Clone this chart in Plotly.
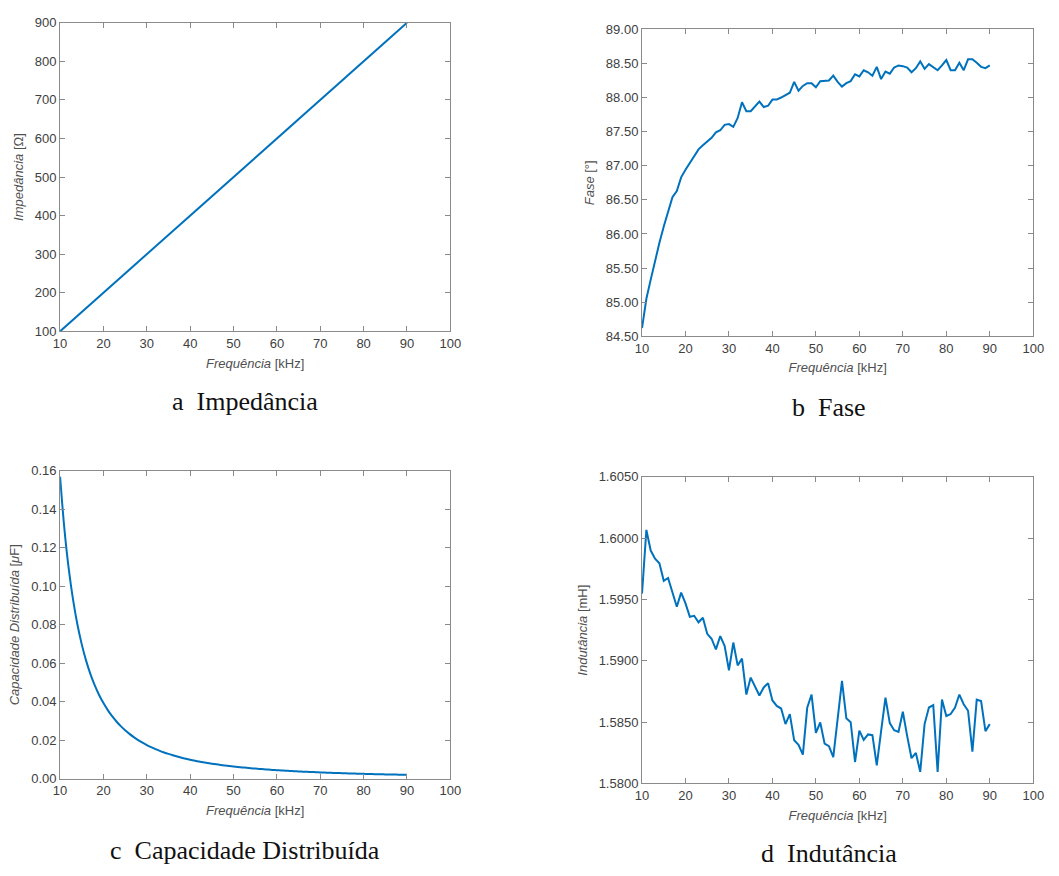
import plotly.graph_objects as go

# ---------------- data ----------------
freq_khz = list(range(10, 91))

impedance_ohm = [100, 110, 120, 130, 140, 150, 160, 170, 180, 190,
                 200, 210, 220, 230, 240, 250, 260, 270, 280, 290,
                 300, 310, 320, 330, 340, 350, 360, 370, 380, 390,
                 400, 410, 420, 430, 440, 450, 460, 470, 480, 490,
                 500, 510, 520, 530, 540, 550, 560, 570, 580, 590,
                 600, 610, 620, 630, 640, 650, 660, 670, 680, 690,
                 700, 710, 720, 730, 740, 750, 760, 770, 779, 790,
                 800, 810, 820, 830, 840, 850, 859, 869, 880, 890,
                 900]

phase_deg = [84.62, 85.05, 85.33, 85.62, 85.87, 86.11, 86.32, 86.54, 86.63, 86.83,
             86.94, 87.04, 87.14, 87.24, 87.30, 87.35, 87.41, 87.49, 87.52, 87.60,
             87.61, 87.57, 87.70, 87.93, 87.80, 87.80, 87.87, 87.94, 87.86, 87.88,
             87.97, 87.97, 88.00, 88.04, 88.07, 88.23, 88.10, 88.17, 88.21, 88.21,
             88.15, 88.24, 88.24, 88.25, 88.32, 88.23, 88.16, 88.21, 88.24, 88.34,
             88.31, 88.40, 88.37, 88.32, 88.45, 88.27, 88.38, 88.35, 88.44, 88.47,
             88.46, 88.44, 88.37, 88.43, 88.53, 88.42, 88.49, 88.44, 88.40, 88.47,
             88.55, 88.40, 88.40, 88.51, 88.40, 88.56, 88.56, 88.51, 88.45, 88.43,
             88.47]

capacitance_uf = [0.15700, 0.12975, 0.10903, 0.09290, 0.08010, 0.06978, 0.06133, 0.05433, 0.04846, 0.04349,
                  0.03925, 0.03560, 0.03244, 0.02968, 0.02726, 0.02512, 0.02322, 0.02154, 0.02003, 0.01867,
                  0.01744, 0.01634, 0.01533, 0.01442, 0.01358, 0.01282, 0.01211, 0.01147, 0.01087, 0.01032,
                  0.00981, 0.00934, 0.00890, 0.00849, 0.00811, 0.00775, 0.00742, 0.00711, 0.00681, 0.00654,
                  0.00628, 0.00604, 0.00581, 0.00559, 0.00538, 0.00519, 0.00501, 0.00483, 0.00467, 0.00451,
                  0.00436, 0.00422, 0.00408, 0.00396, 0.00383, 0.00372, 0.00360, 0.00350, 0.00340, 0.00330,
                  0.00320, 0.00311, 0.00303, 0.00295, 0.00287, 0.00279, 0.00272, 0.00265, 0.00258, 0.00252,
                  0.00245, 0.00239, 0.00233, 0.00228, 0.00223, 0.00217, 0.00212, 0.00207, 0.00203, 0.00198,
                  0.00194]

inductance_mh = [1.59548, 1.60067, 1.59899, 1.59832, 1.59795, 1.59652, 1.59675, 1.59555, 1.59441, 1.59556,
                 1.59468, 1.59359, 1.59367, 1.59314, 1.59351, 1.59220, 1.59180, 1.59093, 1.59202, 1.59122,
                 1.58923, 1.59149, 1.58963, 1.59018, 1.58725, 1.58863, 1.58789, 1.58717, 1.58783, 1.58818,
                 1.58677, 1.58632, 1.58611, 1.58484, 1.58566, 1.58352, 1.58315, 1.58235, 1.58617, 1.58725,
                 1.58413, 1.58497, 1.58325, 1.58304, 1.58214, 1.58519, 1.58836, 1.58532, 1.58500, 1.58175,
                 1.58431, 1.58355, 1.58400, 1.58394, 1.58148, 1.58426, 1.58699, 1.58492, 1.58434, 1.58421,
                 1.58585, 1.58386, 1.58206, 1.58249, 1.58095, 1.58484, 1.58619, 1.58638, 1.58095, 1.58685,
                 1.58550, 1.58566, 1.58619, 1.58725, 1.58646, 1.58593, 1.58259, 1.58683, 1.58672, 1.58426,
                 1.58484]

x_ticks = [10, 20, 30, 40, 50, 60, 70, 80, 90, 100]

captions = ["a&nbsp;&nbsp;Impedância", "b&nbsp;&nbsp;Fase",
            "c&nbsp;&nbsp;Capacidade Distribuída", "d&nbsp;&nbsp;Indutância"]

# ---------------- figure ----------------
W, H = 1059, 876
LINE = "#0072BD"
AXC = "#8a8a8a"
TXT = "#404040"
TICKFONT = dict(family="Liberation Sans, Arial, sans-serif", size=13, color=TXT)
TITLEFONT = dict(family="Liberation Sans, Arial, sans-serif", size=13, color="#505050")


def px_dom_x(a, b):
    return [a / W, b / W]


def px_dom_y(top, bottom):
    return [1 - bottom / H, 1 - top / H]


fig = go.Figure()

panels = [
    dict(y=impedance_ohm, xd=px_dom_x(54, 451), yd=px_dom_y(16, 330),
         yr=[100, 900], dt=100, fmt="d", yt="<i>Impedância</i> [Ω]", shape="linear"),
    dict(y=phase_deg, xd=px_dom_x(646, 1044), yd=px_dom_y(22.7, 335),
         yr=[84.5, 89], dt=0.5, fmt=".2f", yt="<i>Fase</i> [°]", shape="linear"),
    dict(y=capacitance_uf, xd=px_dom_x(54, 451), yd=px_dom_y(472, 785),
         yr=[0, 0.16], dt=0.02, fmt=".2f", yt="<i>Capacidade Distribuída</i> [<i>μ</i>F]",
         shape="spline"),
    dict(y=inductance_mh, xd=px_dom_x(646, 1044), yd=px_dom_y(478, 790),
         yr=[1.58, 1.605], dt=0.005, fmt=".4f", yt="<i>Indutância</i> [mH]", shape="linear"),
]

layout = dict(
    width=W, height=H,
    margin=dict(l=0, r=0, t=0, b=0),
    paper_bgcolor="white", plot_bgcolor="white",
    showlegend=False,
)

for i, p in enumerate(panels, start=1):
    xa = "x" if i == 1 else f"x{i}"
    ya = "y" if i == 1 else f"y{i}"
    fig.add_trace(go.Scatter(x=freq_khz, y=p["y"], mode="lines",
                             line=dict(color=LINE, width=2, shape=p["shape"]),
                             xaxis=xa, yaxis=ya, hoverinfo="skip"))
    common = dict(showline=True, linecolor=AXC, linewidth=1, mirror="ticks",
                  ticks="inside", ticklen=5, tickcolor=AXC, tickwidth=1,
                  showgrid=False, zeroline=False, tickfont=TICKFONT)
    layout[f"xaxis{'' if i == 1 else i}"] = dict(
        domain=p["xd"], anchor=ya, range=[10, 100], tickvals=x_ticks,
        title=dict(text="<i>Frequência</i> [kHz]", font=TITLEFONT, standoff=8),
        **common)
    layout[f"yaxis{'' if i == 1 else i}"] = dict(
        domain=p["yd"], anchor=xa, range=p["yr"], dtick=p["dt"], tick0=p["yr"][0],
        tickformat=p["fmt"],
        title=dict(text=p["yt"], font=TITLEFONT, standoff=8),
        **common)

cap_pos = [(242, 401), (836, 407), (242, 858), (836, 861)]
annotations = []
for text, (cx, cy) in zip(captions, cap_pos):
    annotations.append(dict(text=text, x=cx / W, y=1 - cy / H, xref="paper", yref="paper",
                            xanchor="center", yanchor="middle", showarrow=False,
                            font=dict(family="Liberation Serif, Times New Roman, serif",
                                      size=26, color="#111111")))
layout["annotations"] = annotations

fig.update_layout(**layout)
fig.write_html("out.html")
